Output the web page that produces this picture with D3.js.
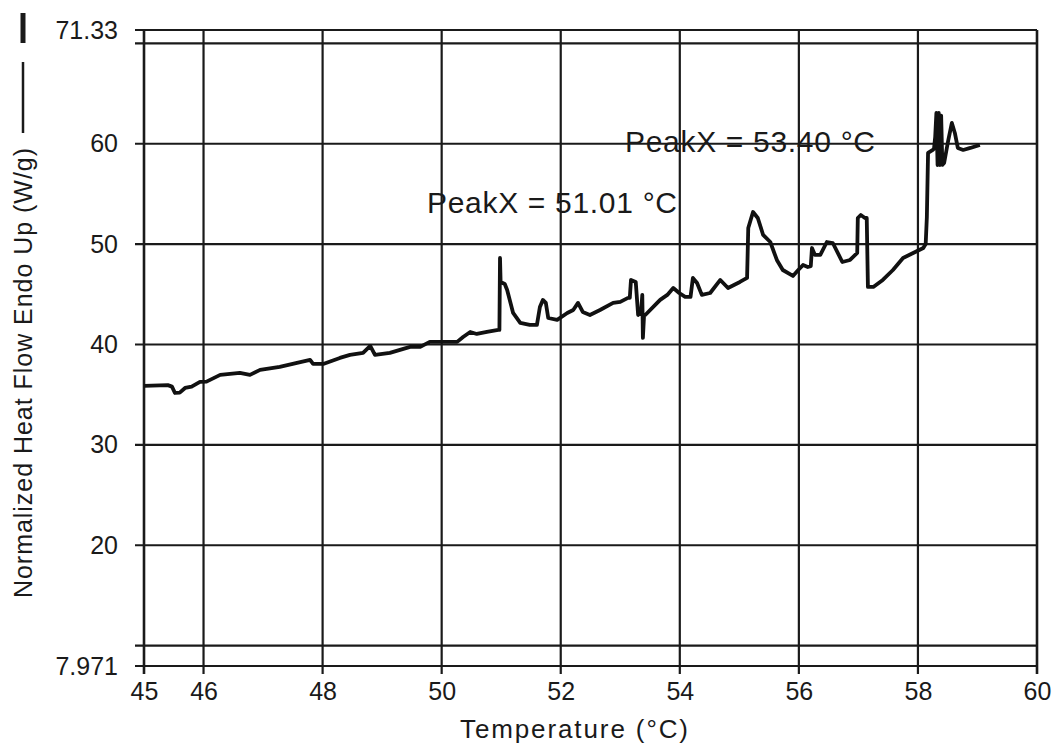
<!DOCTYPE html>
<html>
<head>
<meta charset="utf-8">
<script src="https://cdn.jsdelivr.net/npm/d3@7"></script>
<style>
  body { margin: 0; background: #fff; }
  svg { display: block; font-family: "Liberation Sans", Arial, sans-serif; }
  .tick text { fill: #1a1a1a; }
</style>
</head>
<body>
<svg></svg>
<script>
// DSC curve - heat flow vs temperature
const temps = [
  45.00, 45.40, 45.47, 45.52, 45.60, 45.69, 45.80, 45.94, 46.05, 46.28,
  46.61, 46.78, 46.95, 47.28, 47.57, 47.79, 47.84, 48.01, 48.29, 48.46,
  48.68, 48.80, 48.88, 49.13, 49.47, 49.64, 49.80, 50.26, 50.36, 50.48,
  50.59, 50.76, 50.95, 50.97, 50.98, 50.99, 51.06, 51.10, 51.20, 51.32,
  51.48, 51.60, 51.65, 51.70, 51.75, 51.79, 51.94, 52.11, 52.21, 52.29,
  52.37, 52.49, 52.66, 52.88, 53.00, 53.13, 53.16, 53.18, 53.26, 53.30,
  53.35, 53.37, 53.38, 53.40, 53.42, 53.62, 53.67, 53.79, 53.89, 53.99,
  54.09, 54.18, 54.22, 54.29, 54.37, 54.51, 54.68, 54.81, 55.01, 55.13,
  55.15, 55.23, 55.31, 55.40, 55.52, 55.63, 55.73, 55.90, 55.99, 56.07,
  56.15, 56.20, 56.22, 56.27, 56.36, 56.47, 56.57, 56.73, 56.86, 56.98,
  56.99, 57.04, 57.11, 57.14, 57.16, 57.25, 57.41, 57.58, 57.75, 57.92,
  58.09, 58.13, 58.15, 58.17, 58.25, 58.27, 58.29, 58.31, 58.33, 58.35,
  58.37, 58.39, 58.41, 58.44, 58.51, 58.57, 58.62, 58.67, 58.76, 58.88,
  59.04
];
const heatFlow = [
  35.87, 35.95, 35.80, 35.17, 35.20, 35.67, 35.80, 36.27, 36.30, 36.97,
  37.17, 36.97, 37.47, 37.77, 38.17, 38.46, 38.06, 38.06, 38.66, 38.96,
  39.16, 39.86, 38.96, 39.16, 39.76, 39.76, 40.26, 40.26, 40.75, 41.25,
  41.05, 41.25, 41.45, 41.45, 48.62, 46.23, 46.03, 45.43, 43.14, 42.15,
  41.95, 41.95, 43.74, 44.44, 44.14, 42.64, 42.45, 43.14, 43.44, 44.14,
  43.24, 42.94, 43.44, 44.14, 44.24, 44.64, 44.64, 46.43, 46.23, 42.94,
  43.24, 44.94, 40.65, 42.94, 42.94, 44.14, 44.44, 44.94, 45.63, 45.13,
  44.74, 44.74, 46.63, 46.13, 44.94, 45.13, 46.43, 45.63, 46.23, 46.63,
  51.61, 53.20, 52.60, 50.91, 50.21, 48.42, 47.42, 46.83, 47.42, 47.92,
  47.72, 47.80, 49.61, 48.92, 48.92, 50.21, 50.11, 48.22, 48.42, 49.12,
  52.60, 52.90, 52.60, 52.60, 45.73, 45.73, 46.43, 47.42, 48.62, 49.12,
  49.61, 50.00, 52.70, 59.08, 59.38, 59.50, 60.67, 63.06, 57.88, 63.06,
  57.88, 62.80, 57.90, 58.08, 60.37, 62.07, 61.07, 59.58, 59.38, 59.58,
  59.88
];

const xTicks = [45, 46, 48, 50, 52, 54, 56, 58, 60];
const yLabelTicks = [7.971, 20, 30, 40, 50, 60, 71.33];
const yLabelText = ["7.971", "20", "30", "40", "50", "60", "71.33"];
const yGrid = [7.971, 10, 20, 30, 40, 50, 60, 70, 71.33];
const peakLabels = ["PeakX = 53.40 °C", "PeakX = 51.01 °C"];

const w = 1056;
const h = 744;
const padLeft = 144, padRight = 1037, padTop = 30, padBottom = 666;
const ink = "#1a1a1a";

const svg = d3.select("svg").attr("width", w).attr("height", h);

const xScale = d3.scaleLinear().domain([45, 60]).range([padLeft, padRight]);
const yScale = d3.scaleLinear().domain([7.971, 71.33]).range([padBottom, padTop]);

// grid lines (with the small outside tick)
svg.append("g")
  .selectAll("line")
  .data(yGrid)
  .enter()
  .append("line")
  .attr("x1", padLeft - 9)
  .attr("x2", padRight)
  .attr("y1", d => yScale(d))
  .attr("y2", d => yScale(d))
  .attr("stroke", ink)
  .attr("stroke-width", 2.2);

svg.append("g")
  .selectAll("line")
  .data(xTicks)
  .enter()
  .append("line")
  .attr("x1", d => xScale(d))
  .attr("x2", d => xScale(d))
  .attr("y1", padTop)
  .attr("y2", padBottom + 8)
  .attr("stroke", ink)
  .attr("stroke-width", d => (d === 45 || d === 60) ? 2.6 : 2.2);

// axes - only for labels
const xAxis = d3.axisBottom(xScale)
  .tickValues(xTicks)
  .tickFormat(d3.format("d"))
  .tickSize(0)
  .tickPadding(16);
svg.append("g")
  .attr("id", "x-axis")
  .attr("transform", "translate(0," + padBottom + ")")
  .call(xAxis)
  .call(g => g.select(".domain").remove())
  .selectAll("text")
  .style("font-size", "25px");

const yAxis = d3.axisLeft(yScale)
  .tickValues(yLabelTicks)
  .tickFormat((d, i) => yLabelText[i])
  .tickSize(0)
  .tickPadding(26);
svg.append("g")
  .attr("id", "y-axis")
  .attr("transform", "translate(" + padLeft + ",0)")
  .call(yAxis)
  .call(g => g.select(".domain").remove())
  .selectAll("text")
  .style("font-size", "25px");

// axis titles
svg.append("text")
  .attr("x", 574)
  .attr("y", 738)
  .attr("text-anchor", "middle")
  .attr("textLength", 228)
  .style("font-size", "26px")
  .attr("fill", ink)
  .text("Temperature (°C)");

svg.append("text")
  .attr("transform", "translate(32,598) rotate(-90)")
  .attr("textLength", 450)
  .style("font-size", "25px")
  .attr("fill", ink)
  .text("Normalized Heat Flow Endo Up (W/g)");

// legend mark beside the y title
svg.append("line")
  .attr("x1", 23).attr("x2", 23).attr("y1", 62).attr("y2", 133)
  .attr("stroke", ink).attr("stroke-width", 2.5);
svg.append("line")
  .attr("x1", 23).attr("x2", 23).attr("y1", 13).attr("y2", 43)
  .attr("stroke", ink).attr("stroke-width", 5);

// the curve
const line = d3.line()
  .x((d, i) => xScale(temps[i]))
  .y(d => yScale(d));

svg.append("path")
  .datum(heatFlow)
  .attr("d", line)
  .attr("fill", "none")
  .attr("stroke", "#111")
  .attr("stroke-width", 3.8)
  .attr("stroke-linejoin", "round");

// peak annotations
svg.append("text")
  .attr("x", 625).attr("y", 152)
  .attr("textLength", 250)
  .style("font-size", "30px")
  .attr("fill", ink)
  .text(peakLabels[0]);

svg.append("text")
  .attr("x", 427).attr("y", 213)
  .attr("textLength", 250)
  .style("font-size", "30px")
  .attr("fill", ink)
  .text(peakLabels[1]);
</script>
</body>
</html>
